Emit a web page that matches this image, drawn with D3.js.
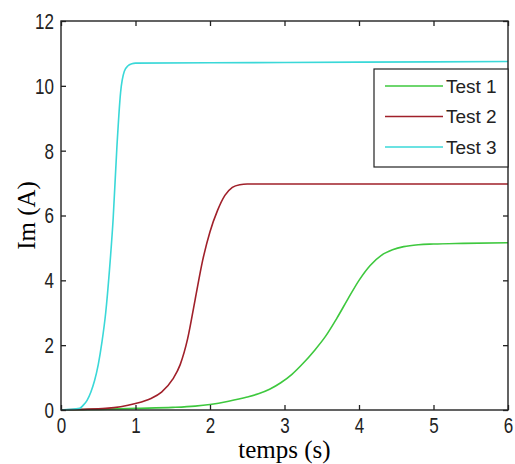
<!DOCTYPE html>
<html>
<head>
<meta charset="utf-8">
<script src="https://cdn.jsdelivr.net/npm/d3@7"></script>
<style>
  body { margin: 0; background: #fff; }
  .tick text { font-family: "Liberation Sans", Arial, sans-serif; font-size: 17px; fill: #222; }
  .axis path { display: none; }
  .axis line { stroke: #222; stroke-width: 1.3; }
</style>
</head>
<body>
<div id="chart"></div>
<script>
// Test 1 (green)
const t1 = [0, 0.5, 1.0, 1.5, 1.8, 2.0, 2.25, 2.5, 2.65, 2.8, 2.95, 3.1, 3.25, 3.4, 3.55, 3.7, 3.85, 4.0, 4.15, 4.3, 4.45, 4.6, 4.8, 5.0, 5.4, 6.0];
const im1 = [0, 0.02, 0.05, 0.08, 0.12, 0.17, 0.27, 0.4, 0.5, 0.64, 0.84, 1.1, 1.44, 1.83, 2.27, 2.82, 3.42, 4.0, 4.46, 4.77, 4.94, 5.04, 5.1, 5.12, 5.14, 5.16];
// Test 2 (red)
const t2 = [0, 0.25, 0.6, 0.8, 1.0, 1.2, 1.35, 1.5, 1.6, 1.7, 1.8, 1.9, 2.0, 2.1, 2.2, 2.3, 2.4, 2.5, 3.0, 4.0, 5.0, 6.0];
const im2 = [0, 0.02, 0.05, 0.1, 0.2, 0.35, 0.55, 0.95, 1.4, 2.2, 3.4, 4.6, 5.5, 6.15, 6.62, 6.87, 6.95, 6.97, 6.97, 6.97, 6.97, 6.97];
// Test 3 (cyan)
const t3 = [0, 0.25, 0.3, 0.35, 0.4, 0.45, 0.5, 0.55, 0.6, 0.65, 0.7, 0.75, 0.8, 0.85, 0.9, 0.95, 1.0, 2.0, 4.0, 6.0];
const im3 = [0, 0.05, 0.15, 0.3, 0.55, 0.9, 1.4, 2.1, 3.0, 4.3, 5.9, 8.1, 9.8, 10.45, 10.62, 10.68, 10.7, 10.71, 10.73, 10.75];

const seriesNames = ["Test 1", "Test 2", "Test 3"];
const seriesColors = ["#3ec83e", "#a0202a", "#3ad8d8"];
const xTicks = [0, 1, 2, 3, 4, 5, 6];
const yTicks = [0, 2, 4, 6, 8, 10, 12];

const times = [t1, t2, t3];
const values = [im1, im2, im3];
const series = seriesNames.map((name, i) => ({
  name: name,
  color: seriesColors[i],
  points: times[i].map((t, j) => ({t: t, v: values[i][j]}))
}));

const W = 515, H = 464;
const margin = {top: 21, right: 7, bottom: 54, left: 61};
const width = W - margin.left - margin.right;
const height = H - margin.top - margin.bottom;

const svg = d3.select("#chart").append("svg")
    .attr("width", W)
    .attr("height", H);

const chart = svg.append("g")
    .attr("transform", `translate(${margin.left},${margin.top})`);

const xScale = d3.scaleLinear().domain([0, 6]).range([0, width]);
const yScale = d3.scaleLinear().domain([0, 12]).range([height, 0]);

// curves
const line = d3.line()
    .x(d => xScale(d.t))
    .y(d => yScale(d.v))
    .curve(d3.curveMonotoneX);

chart.selectAll(".curve")
    .data(series)
    .join("path")
    .attr("class", "curve")
    .attr("fill", "none")
    .attr("stroke", d => d.color)
    .attr("stroke-width", 1.6)
    .attr("d", d => line(d.points));

// axes, MATLAB style: ticks pointing inward on all four sides
const xAxis = d3.axisBottom(xScale).tickValues(xTicks).tickFormat(d3.format("d")).tickSizeInner(-5).tickSizeOuter(0);
const yAxis = d3.axisLeft(yScale).tickValues(yTicks).tickFormat(d3.format("d")).tickSizeInner(-5).tickSizeOuter(0);

const xAxisG = chart.append("g")
    .attr("class", "axis x-axis")
    .attr("transform", `translate(0,${height})`)
    .call(xAxis);
// labels are drawn narrow and tall, like the reference
xAxisG.selectAll("text")
    .attr("y", 18.4)
    .attr("dy", 0)
    .attr("transform", "scale(1,1.25)");

const yAxisG = chart.append("g")
    .attr("class", "axis y-axis")
    .call(yAxis);
yAxisG.selectAll("text")
    .attr("x", -7)
    .attr("dy", "0.35em")
    .attr("transform", "scale(1,1.25)");

chart.append("g")
    .attr("class", "axis")
    .call(d3.axisTop(xScale).tickValues(xTicks).tickSizeInner(-5).tickSizeOuter(0).tickFormat(""));
chart.append("g")
    .attr("class", "axis")
    .attr("transform", `translate(${width},0)`)
    .call(d3.axisRight(yScale).tickValues(yTicks).tickSizeInner(-5).tickSizeOuter(0).tickFormat(""));

// frame
chart.append("rect")
    .attr("width", width)
    .attr("height", height)
    .attr("fill", "none")
    .attr("stroke", "#222")
    .attr("stroke-width", 1.4);

// axis titles
svg.append("text")
    .attr("x", margin.left + width / 2)
    .attr("y", 458)
    .attr("text-anchor", "middle")
    .style("font-family", "'Liberation Serif', 'Times New Roman', serif")
    .style("font-size", "25px")
    .text("temps (s)");

svg.append("text")
    .attr("transform", `translate(35,${margin.top + height / 2}) rotate(-90)`)
    .attr("text-anchor", "middle")
    .style("font-family", "'Liberation Serif', 'Times New Roman', serif")
    .style("font-size", "25px")
    .text("Im (A)");

// legend
const legend = chart.append("g")
    .attr("transform", `translate(${374 - margin.left},${69 - margin.top})`);

legend.append("rect")
    .attr("width", 134)
    .attr("height", 98)
    .attr("fill", "#fff")
    .attr("stroke", "#222")
    .attr("stroke-width", 1.2);

const item = legend.selectAll(".item")
    .data(series)
    .join("g")
    .attr("class", "item")
    .attr("transform", (d, i) => `translate(0,${17 + i * 30.5})`);

item.append("line")
    .attr("x1", 11)
    .attr("x2", 69)
    .attr("stroke", d => d.color)
    .attr("stroke-width", 1.6);

item.append("text")
    .attr("x", 72)
    .attr("dy", "0.35em")
    .style("font-family", "'Liberation Sans', Arial, sans-serif")
    .style("font-size", "19px")
    .attr("fill", "#222")
    .text(d => d.name);
</script>
</body>
</html>
